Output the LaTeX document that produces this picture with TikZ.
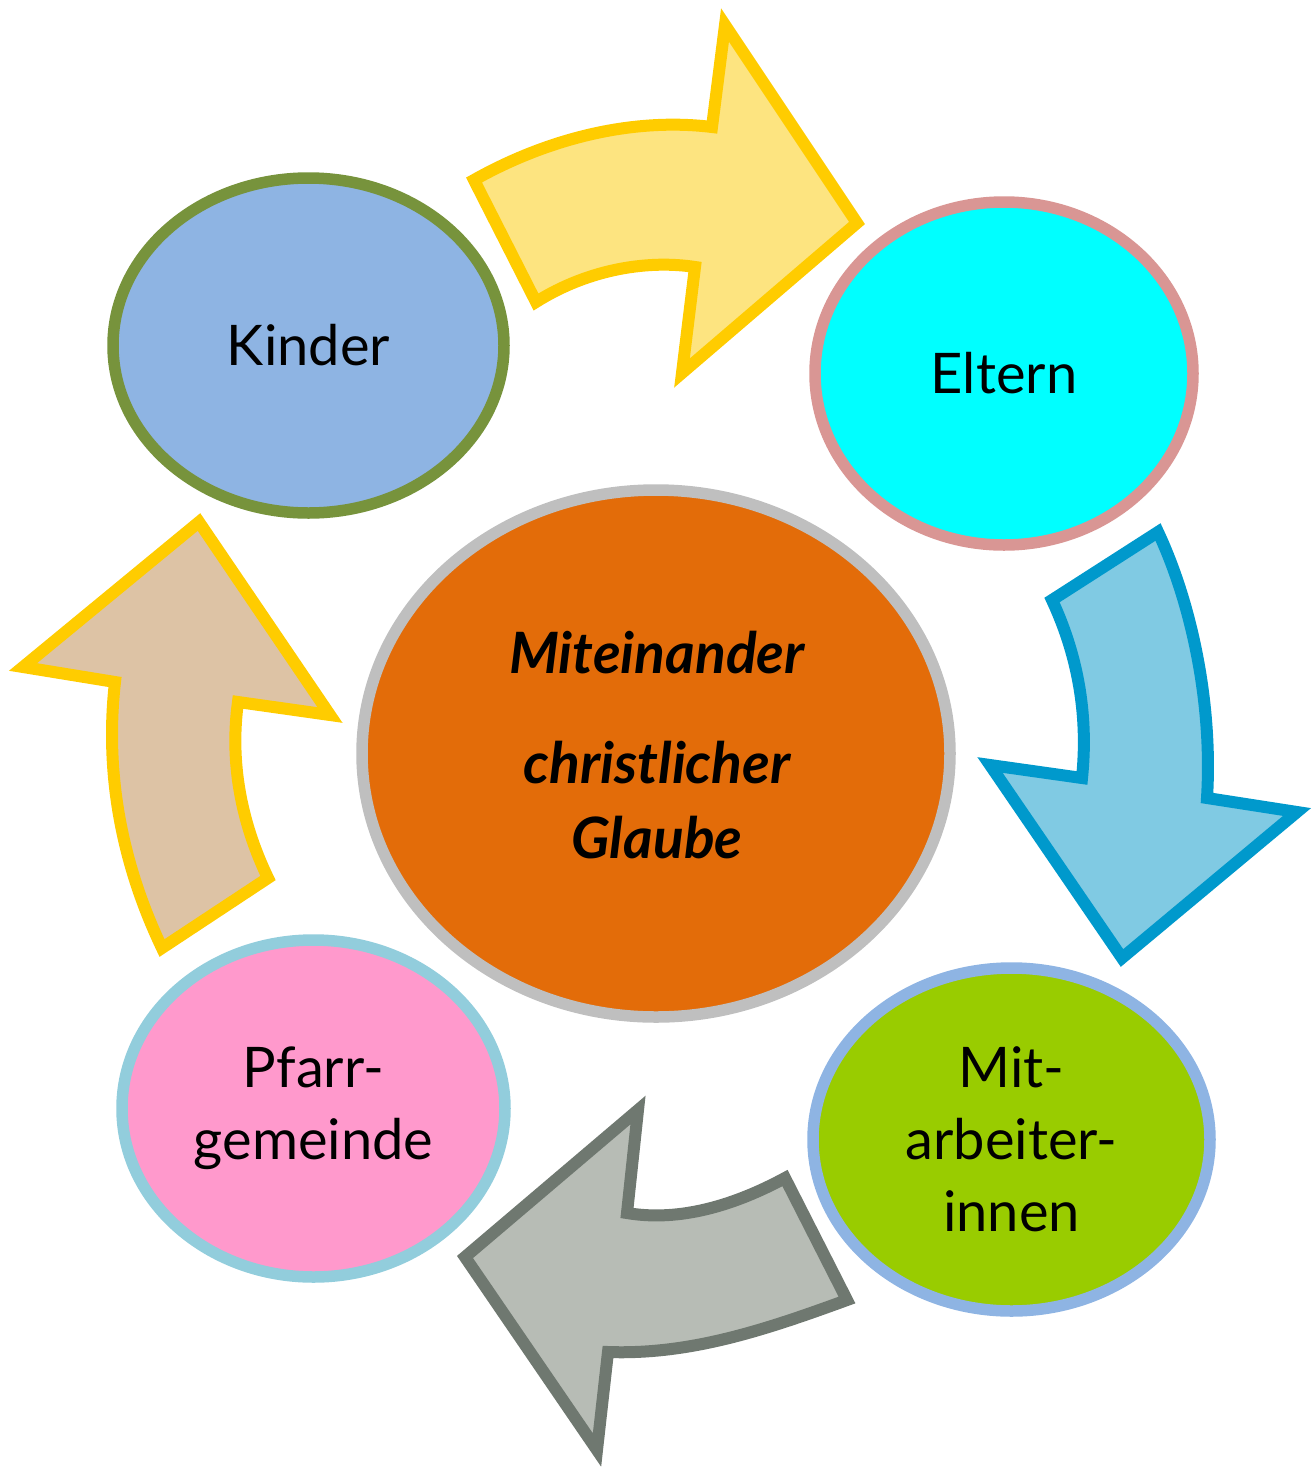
\documentclass[tikz,border=0pt]{standalone}
\usepackage{fontspec}
\setmainfont{Lato}
\usetikzlibrary{shapes.geometric}

% bubble colours
\definecolor{kinderfill}{HTML}{8EB4E3}
\definecolor{kinderline}{HTML}{77933C}
\definecolor{elternfill}{HTML}{00FFFF}
\definecolor{elternline}{HTML}{D99694}
\definecolor{glaubefill}{HTML}{E36C09}
\definecolor{glaubeline}{HTML}{BFBFBF}
\definecolor{mitfill}{HTML}{99CC00}
\definecolor{mitline}{HTML}{8EB4E3}
\definecolor{pfarrfill}{HTML}{FF99CC}
\definecolor{pfarrline}{HTML}{92CDDC}
% arrow colours
\definecolor{yelfill}{HTML}{FDE480}
\definecolor{yelline}{HTML}{FFCC00}
\definecolor{bluefill}{HTML}{80CAE3}
\definecolor{blueline}{HTML}{0099CC}
\definecolor{greyfill}{HTML}{B7BCB5}
\definecolor{greyline}{HTML}{6F7870}
\definecolor{tanfill}{HTML}{DDC3A5}

\begin{document}
\begin{tikzpicture}[x=0.5pt,y=-0.5pt,
  bubble/.style={ellipse, line width=5.75pt, inner sep=0pt, align=center,
    font=\fontsize{28}{36}\selectfont},
  blockarrow/.style={line width=6pt, line join=miter, miter limit=10}]
\useasboundingbox (0,0) rectangle (1312,1468);

% curved block arrows
\draw[blockarrow, draw=yelline, fill=yelfill]
  (474,180) .. controls (545,140) and (630,117) .. (712,127)
  -- (725,25) -- (857,223) -- (682,373) -- (695,267)
  .. controls (650,260) and (590,268) .. (536,302) -- cycle;

\draw[blockarrow, draw=blueline, fill=bluefill]
  (1158,532) .. controls (1190,600) and (1213,700) .. (1207,798)
  -- (1297,812) -- (1122,958) -- (990,765) -- (1082,778)
  .. controls (1088,720) and (1080,660) .. (1052,600) -- cycle;

\draw[blockarrow, draw=greyline, fill=greyfill]
  (785,1178) -- (847,1300)
  .. controls (765,1330) and (690,1355) .. (608,1352)
  -- (597,1450) -- (465,1257) -- (638,1110) -- (627,1213)
  .. controls (680,1222) and (735,1205) .. (785,1178) -- cycle;

\draw[blockarrow, draw=yelline, fill=tanfill]
  (162,948) -- (268,878)
  .. controls (240,820) and (230,760) .. (238,702)
  -- (330,715) -- (199,522) -- (23,667) -- (115,682)
  .. controls (105,770) and (120,860) .. (162,948) -- cycle;

% bubbles
\node (kinder) [bubble, draw=kinderline, fill=kinderfill,
  minimum width=195.5pt, minimum height=167.5pt] at (308.5,345.5) {Kinder};
\node (eltern) [bubble, draw=elternline, fill=elternfill,
  minimum width=189pt, minimum height=171.5pt] at (1004,373.5) {Eltern};
\node (glaube) [bubble, draw=glaubeline, fill=glaubefill,
  minimum width=294pt, minimum height=263.5pt] at (656,753.5) {};
\node (glaubetext) [align=center, inner sep=0pt,
  font=\fontsize{28.5}{37.5}\selectfont\bfseries\itshape] at (657,745)
  {Miteinander\\[17.5pt]christlicher\\Glaube};
\node (mit) [bubble, draw=mitline, fill=mitfill,
  minimum width=198.5pt, minimum height=171.5pt] at (1011.5,1139.5)
  {Mit-\\arbeiter-\\innen};
\node (pfarr) [bubble, draw=pfarrline, fill=pfarrfill,
  minimum width=191.5pt, minimum height=168.5pt] at (313.5,1108.5)
  {Pfarr-\\gemeinde};
\end{tikzpicture}
\end{document}
